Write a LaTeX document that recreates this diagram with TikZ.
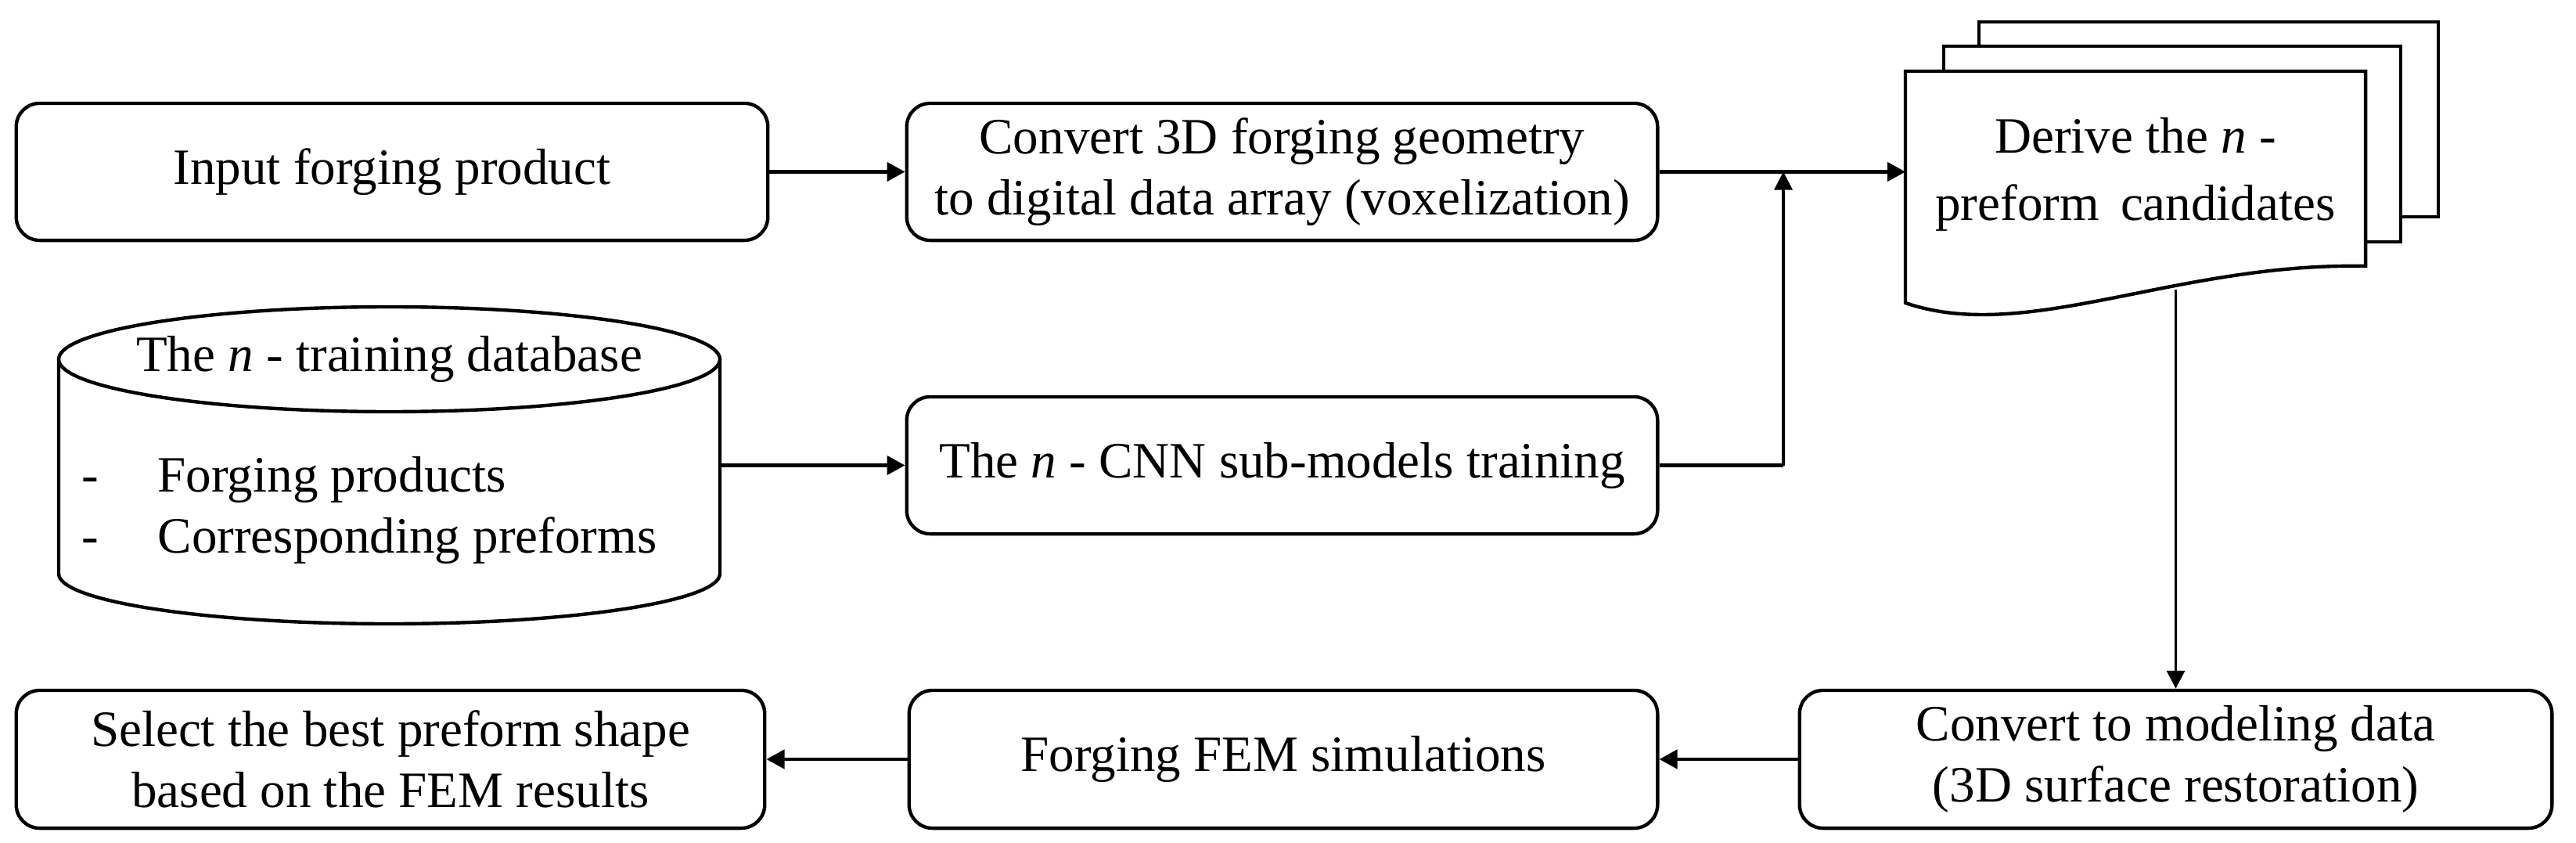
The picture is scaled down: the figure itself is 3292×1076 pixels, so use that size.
\documentclass[tikz,border=0pt]{standalone}
\usepackage{fontspec}
\setmainfont{Liberation Serif}
\usetikzlibrary{arrows.meta}
\newcommand{\figfont}{\fontsize{18.5}{22.2}\selectfont}
\begin{document}
\begin{tikzpicture}[x=0.01cm,y=-0.01cm,
  box/.style={draw, line width=1.25pt, rounded corners=0.3cm, align=center, inner sep=0pt, font=\figfont, fill=white},
  arr/.style={line width=1.25pt, -{Triangle[length=0.23cm,width=0.24cm]}},
  varr/.style={line width=1pt, -{Triangle[length=0.23cm,width=0.23cm]}},
  shp/.style={line width=1.25pt, fill=white},
  txt/.style={font=\figfont, inner sep=0pt}]
\fill[white] (0,0) rectangle (3292,1076);
\useasboundingbox (0,0) rectangle (3292,1076);

% top row
\node[box, minimum width=9.60cm, minimum height=1.75cm] (b1) at (501,219.5) {Input forging product};
\node[box, minimum width=9.59cm, minimum height=1.75cm] (b2) at (1638.5,219.5) {Convert 3D forging geometry\\to digital data array (voxelization)};
\node[box, minimum width=9.59cm, minimum height=1.75cm] (cnn) at (1638.5,594.5) {The \textit{n} - CNN sub-models training};

% document stack
\draw[shp] (2529,28) rectangle (3116,277);
\draw[shp] (2484,59) rectangle (3068,309);
\draw[shp] (2435,91) -- (3023,91) -- (3023,340)
  .. controls (2780,335) and (2590,440) .. (2435,387) -- cycle;
\node[txt, align=center] (doc) at (2729,223) {Derive the \textit{n} -\\[0.08cm]preform\, candidates};
\coordinate (docW) at (2435,219.5);
\coordinate (docS) at (2780.5,370);
\coordinate (join) at (2279,219.5);

% cylinder
\draw[shp] (75,459) -- (75,733)
  .. controls (75,768.3) and (264.1,797) .. (497.5,797)
  .. controls (730.9,797) and (920,768.3) .. (920,733) -- (920,459);
\draw[shp] (497.5,459) ellipse [x radius=422.5, y radius=67];
\node[txt] (dbtitle) at (497.5,459) {The \textit{n} - training database};
\node[txt, anchor=base] (dash1) at (115,628) {-};
\node[txt, anchor=base] (dash2) at (115,706) {-};
\node[txt, anchor=base west] (it1) at (201,628) {Forging products};
\node[txt, anchor=base west] (it2) at (201,706) {Corresponding preforms};
\coordinate (cylE) at (920,594.5);

% bottom row
\node[box, minimum width=9.56cm, minimum height=1.76cm] (sel) at (499,970) {Select the best preform shape\\based on the FEM results};
\node[box, minimum width=9.56cm, minimum height=1.76cm] (fem) at (1640,970) {Forging FEM simulations};
\node[box, minimum width=9.61cm, minimum height=1.76cm] (conv) at (2780.5,970) {Convert to modeling data\\(3D surface restoration)};

% connectors
\draw[arr] (b1.east) -- (b2.west);
\draw[arr] (b2.east) -- (docW);
\draw[arr] (cylE) -- (cnn.west);
\draw[line width=1.25pt] (cnn.east) -- (cnn.east -| join);
\draw[varr] (cnn.east -| join) -- (join);
\draw[varr] (docS) -- (conv.north);
\draw[arr] (conv.west) -- (fem.east);
\draw[arr] (fem.west) -- (sel.east);
\end{tikzpicture}
\end{document}
